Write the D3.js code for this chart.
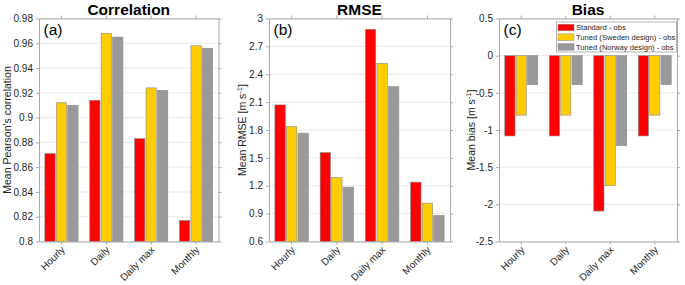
<!DOCTYPE html>
<html>
<head>
<meta charset="utf-8">
<script src="https://cdn.jsdelivr.net/npm/d3@7"></script>
<style>
  html, body { margin: 0; padding: 0; background: #fff; }
  svg { display: block; font-family: "Liberation Sans", Arial, Helvetica, sans-serif; }
</style>
</head>
<body>
<svg id="chart" width="685" height="285"></svg>
<script>
// ---------- data ----------
const categories = ["Hourly", "Daily", "Daily max", "Monthly"];
const seriesNames = ["Standard - obs", "Tuned (Sweden design) - obs", "Tuned (Norway design) - obs"];
const seriesColors = ["#ff0000", "#ffcc00", "#999999"];

const corrStandard = [0.871, 0.914, 0.883, 0.817];
const corrSweden   = [0.912, 0.968, 0.924, 0.958];
const corrNorway   = [0.910, 0.965, 0.922, 0.956];

const rmseStandard = [2.070, 1.557, 2.884, 1.239];
const rmseSweden   = [1.837, 1.288, 2.518, 1.013];
const rmseNorway   = [1.766, 1.185, 2.267, 0.880];

const biasStandard = [-1.08, -1.08, -2.09, -1.08];
const biasSweden   = [-0.80, -0.80, -1.75, -0.80];
const biasNorway   = [-0.39, -0.39, -1.21, -0.39];

const corrTicks = [0.8, 0.82, 0.84, 0.86, 0.88, 0.9, 0.92, 0.94, 0.96, 0.98];
const corrTickLabels = ["0.8", "0.82", "0.84", "0.86", "0.88", "0.9", "0.92", "0.94", "0.96", "0.98"];
const rmseTicks = [0.6, 0.9, 1.2, 1.5, 1.8, 2.1, 2.4, 2.7, 3.0];
const rmseTickLabels = ["0.6", "0.9", "1.2", "1.5", "1.8", "2.1", "2.4", "2.7", "3"];
const biasTicks = [-2.5, -2, -1.5, -1, -0.5, 0, 0.5];
const biasTickLabels = ["-2.5", "-2", "-1.5", "-1", "-0.5", "0", "0.5"];

// ---------- layout ----------
const svg = d3.select("#chart");
const plotTop = 18.5, plotBottom = 241.5;
const axisColor = "#a9a9a9";
const gridColor = "#e9e9e9";
const textColor = "#262626";

const panels = [
  { left: 39, right: 218.5, series: [corrStandard, corrSweden, corrNorway], domain: [0.8, 0.98],
    ticks: corrTicks, tickLabels: corrTickLabels, title: "Correlation", letter: "(a)",
    ylabel: ["Mean Pearson's correlation"], ylabelX: 10.5, legend: false },
  { left: 269, right: 450, series: [rmseStandard, rmseSweden, rmseNorway], domain: [0.6, 3.0],
    ticks: rmseTicks, tickLabels: rmseTickLabels, title: "RMSE", letter: "(b)",
    ylabel: ["Mean RMSE [m s", "-1", "]"], ylabelX: 245.5, legend: false },
  { left: 499, right: 677, series: [biasStandard, biasSweden, biasNorway], domain: [-2.5, 0.5],
    ticks: biasTicks, tickLabels: biasTickLabels, title: "Bias", letter: "(c)",
    ylabel: ["Mean bias [m s", "-1", "]"], ylabelX: 475, legend: true }
];

panels.forEach(p => {
  const g = svg.append("g");
  const x = d3.scaleBand().domain(categories).range([p.left, p.right]).paddingInner(0).paddingOuter(0);
  const step = x.bandwidth();
  const xs = d3.scaleBand().domain(d3.range(seriesNames.length))
    .range([-0.37 * step, 0.37 * step]).paddingInner(0.1).paddingOuter(0);
  const y = d3.scaleLinear().domain(p.domain).range([plotBottom, plotTop]);
  const base = Math.min(Math.max(0, p.domain[0]), p.domain[1]);

  // grid
  g.append("g").selectAll("line").data(p.ticks).join("line")
    .attr("x1", p.left).attr("x2", p.right)
    .attr("y1", d => y(d)).attr("y2", d => y(d))
    .attr("stroke", gridColor).attr("stroke-width", 1);

  // bars
  p.series.forEach((vals, si) => {
    g.append("g").selectAll("rect").data(vals).join("rect")
      .attr("x", (d, i) => x(categories[i]) + step / 2 + xs(si))
      .attr("width", xs.bandwidth())
      .attr("y", d => Math.min(y(d), y(base)))
      .attr("height", d => Math.abs(y(d) - y(base)))
      .attr("fill", seriesColors[si])
      .attr("stroke", "#8a8a8a").attr("stroke-width", 0.6);
  });

  // axes
  const yAxisL = d3.axisLeft(y).tickValues(p.ticks).tickFormat((d, i) => p.tickLabels[i])
    .tickSizeInner(3).tickSizeOuter(0).tickPadding(3);
  const gl = g.append("g").attr("transform", `translate(${p.left},0)`).call(yAxisL);
  const yAxisR = d3.axisRight(y).tickValues(p.ticks).tickFormat("").tickSizeInner(3).tickSizeOuter(0);
  const gr = g.append("g").attr("transform", `translate(${p.right},0)`).call(yAxisR);
  const xAxisB = d3.axisBottom(x).tickSizeInner(3).tickSizeOuter(0).tickFormat("");
  const gb = g.append("g").attr("transform", `translate(0,${plotBottom})`).call(xAxisB);
  const xAxisT = d3.axisTop(x).tickSizeInner(3).tickSizeOuter(0).tickFormat("");
  const gt = g.append("g").attr("transform", `translate(0,${plotTop})`).call(xAxisT);

  [gl, gr, gb, gt].forEach(a => {
    a.select(".domain").attr("stroke", axisColor).attr("stroke-width", 1);
    a.selectAll(".tick line").attr("stroke", axisColor);
  });
  gl.selectAll(".tick text").attr("fill", textColor).attr("font-size", 10)
    .attr("font-family", "'Liberation Sans', Arial, sans-serif");

  // rotated x tick labels
  g.append("g").selectAll("text").data(categories).join("text")
    .attr("transform", d => `translate(${x(d) + step / 2 + 4},${plotBottom + 9}) rotate(-45)`)
    .attr("text-anchor", "end")
    .attr("font-size", 10)
    .attr("fill", textColor)
    .text(d => d);

  // title
  g.append("text")
    .attr("x", (p.left + p.right) / 2).attr("y", 14.5)
    .attr("text-anchor", "middle")
    .attr("font-size", 15.5).attr("font-weight", "bold")
    .attr("fill", "#000")
    .text(p.title);

  // panel letter
  g.append("text")
    .attr("x", p.left + 4.5).attr("y", 35)
    .attr("font-size", 15.5)
    .attr("fill", "#000")
    .text(p.letter);

  // y label
  const yl = g.append("text")
    .attr("transform", `translate(${p.ylabelX},${(plotTop + plotBottom) / 2}) rotate(-90)`)
    .attr("text-anchor", "middle")
    .attr("font-size", 10.5)
    .attr("fill", textColor);
  if (p.ylabel.length === 1) {
    yl.text(p.ylabel[0]);
  } else {
    yl.append("tspan").text(p.ylabel[0]);
    yl.append("tspan").attr("font-size", 7.5).attr("dy", -4).text(p.ylabel[1]);
    yl.append("tspan").attr("dy", 4).text(p.ylabel[2]);
  }

  // legend
  if (p.legend) {
    const lx = 556.5, ly = 22, lw = 120, lh = 30;
    const lg = g.append("g");
    lg.append("rect").attr("x", lx).attr("y", ly).attr("width", lw).attr("height", lh)
      .attr("fill", "#fff").attr("stroke", "#a0a0a0").attr("stroke-width", 0.8);
    const rows = lg.selectAll("g.row").data(seriesNames).join("g")
      .attr("transform", (d, i) => `translate(${lx + 1.5},${ly + 5.5 + i * 9.7})`);
    rows.append("rect").attr("x", 0).attr("y", -3.3).attr("width", 16).attr("height", 6.6)
      .attr("fill", (d, i) => seriesColors[i]).attr("stroke", "#8a8a8a").attr("stroke-width", 0.5);
    rows.append("text").attr("x", 18).attr("y", 2.8)
      .attr("font-size", 7.6).attr("fill", textColor).text(d => d);
  }
});
</script>
</body>
</html>
